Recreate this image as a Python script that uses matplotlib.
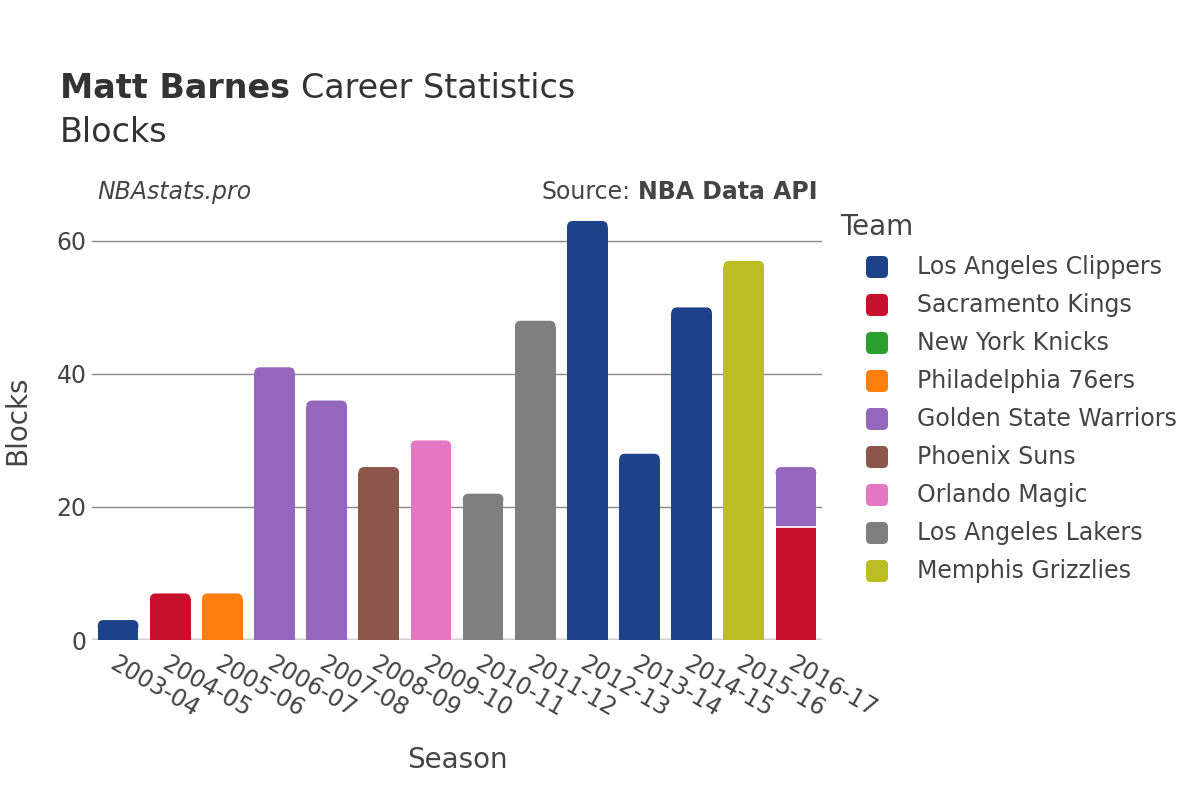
import matplotlib
matplotlib.use("Agg")
import matplotlib.pyplot as plt
from matplotlib.patches import FancyBboxPatch, Rectangle
import numpy as np

plt.rcParams['font.family'] = ['DejaVu Sans']

seasons = ["2003-04", "2004-05", "2005-06", "2006-07", "2007-08", "2008-09", "2009-10",
           "2010-11", "2011-12", "2012-13", "2013-14", "2014-15", "2015-16", "2016-17"]

teams = ["Los Angeles Clippers", "Sacramento Kings", "New York Knicks", "Philadelphia 76ers",
         "Golden State Warriors", "Phoenix Suns", "Orlando Magic", "Los Angeles Lakers",
         "Memphis Grizzlies"]
colors = ["#1d428a", "#c8102e", "#2ca02c", "#ff7f0e", "#9467bd", "#8c564b", "#e377c2",
          "#7f7f7f", "#bcbd22"]

clippers  = [3, 0, 0, 0, 0, 0, 0, 0, 0, 63, 28, 50, 0, 0]
kings     = [0, 7, 0, 0, 0, 0, 0, 0, 0, 0, 0, 0, 0, 17]
knicks    = [0, 0, 0, 0, 0, 0, 0, 0, 0, 0, 0, 0, 0, 0]
sixers    = [0, 0, 7, 0, 0, 0, 0, 0, 0, 0, 0, 0, 0, 0]
warriors  = [0, 0, 0, 41, 36, 0, 0, 0, 0, 0, 0, 0, 0, 9]
suns      = [0, 0, 0, 0, 0, 26, 0, 0, 0, 0, 0, 0, 0, 0]
magic     = [0, 0, 0, 0, 0, 0, 30, 0, 0, 0, 0, 0, 0, 0]
lakers    = [0, 0, 0, 0, 0, 0, 0, 22, 48, 0, 0, 0, 0, 0]
grizzlies = [0, 0, 0, 0, 0, 0, 0, 0, 0, 0, 0, 0, 57, 0]
series = [clippers, kings, knicks, sixers, warriors, suns, magic, lakers, grizzlies]

W, H = 1200, 800
fig = plt.figure(figsize=(12, 8), dpi=100)
ax = fig.add_axes([92/W, 160/H, 730/W, (640-199)/H])

def fy(py):
    return 1 - py / H

x = np.arange(len(seasons))
w = 0.78
ymax = 66.3
ax.set_xlim(-0.5, len(seasons) - 0.5)
ax.set_ylim(0, ymax)

# rounding radii (data units): ~6px
rx = 0.11
ry = 6 / (441 / ymax)

totals = np.sum(np.array(series), axis=0)
bottoms = np.zeros(len(seasons))
for vals, col in zip(series, colors):
    vals = np.array(vals, dtype=float)
    for i in range(len(seasons)):
        h = vals[i]
        if h <= 0:
            continue
        b = bottoms[i]
        is_top = np.isclose(b + h, totals[i])
        if is_top:
            r_y = min(ry, h / 2)
            ax.add_patch(Rectangle((x[i] - w/2, b), w, h - r_y, facecolor=col,
                                   edgecolor='none', zorder=2))
            ax.add_patch(FancyBboxPatch((x[i] - w/2, b + h - 2*r_y), w, 2*r_y,
                                        boxstyle=f"round,pad=0,rounding_size={rx}",
                                        mutation_aspect=r_y/rx, facecolor=col,
                                        edgecolor='none', zorder=2))
        else:
            ax.add_patch(Rectangle((x[i] - w/2, b), w, h, facecolor=col,
                                   edgecolor='none', zorder=2))
        if b > 0:
            ax.plot([x[i] - w/2, x[i] + w/2], [b, b], color='white', lw=1.2, zorder=3)
    bottoms += vals

ax.set_yticks([0, 20, 40, 60])
ax.grid(axis='y', color='#888888', lw=1, zorder=0)
ax.axhline(0, color='#e5e5e5', lw=3, zorder=1)
for s in ax.spines.values():
    s.set_visible(False)
ax.tick_params(axis='both', length=0, labelsize=17, labelcolor='#444444')
ax.tick_params(axis='y', pad=4)
ax.set_xticks(x)
ax.set_xticklabels(seasons, rotation=-30, ha='left', va='top', rotation_mode='anchor')
ax.tick_params(axis='x', pad=8)

fig.text(17/W, fy(420), "Blocks", rotation=90, fontsize=20, color='#444444',
         ha='center', va='center')
fig.text(457/W, fy(760), "Season", fontsize=20, color='#444444',
         ha='center', va='center')

renderer = fig.canvas.get_renderer()
t1 = fig.text(60/W, fy(89), "Matt Barnes", fontsize=24, fontweight='bold',
              color='#333333', ha='left', va='center')
bb = t1.get_window_extent(renderer)
fig.text((bb.x1 + 11)/W, fy(89), "Career Statistics", fontsize=24,
         color='#333333', ha='left', va='center')
fig.text(60/W, fy(132), "Blocks", fontsize=24, color='#333333',
         ha='left', va='center')
fig.text(97/W, fy(192), "NBAstats.pro", fontsize=17, style='italic',
         color='#444444', ha='left', va='center')
t2 = fig.text(818/W, fy(192), "NBA Data API", fontsize=17, fontweight='bold',
              color='#444444', ha='right', va='center')
bb2 = t2.get_window_extent(renderer)
fig.text((bb2.x0 - 8)/W, fy(192), "Source:", fontsize=17,
         color='#444444', ha='right', va='center')

# legend
fig.text(840/W, fy(227), "Team", fontsize=20, color='#444444', ha='left', va='center')
for i, (team, col) in enumerate(zip(teams, colors)):
    yc = 267 + 38 * i
    fig.patches.append(FancyBboxPatch((866/W, fy(yc + 11)), 22/W, 22/H,
                                      boxstyle="round,pad=0,rounding_size=0.004",
                                      mutation_aspect=W/H,
                                      transform=fig.transFigure, facecolor=col,
                                      edgecolor='none', figure=fig))
    fig.text(917/W, fy(yc), team, fontsize=17, color='#444444', ha='left', va='center')

fig.savefig("out.png", dpi=100, facecolor='white')
